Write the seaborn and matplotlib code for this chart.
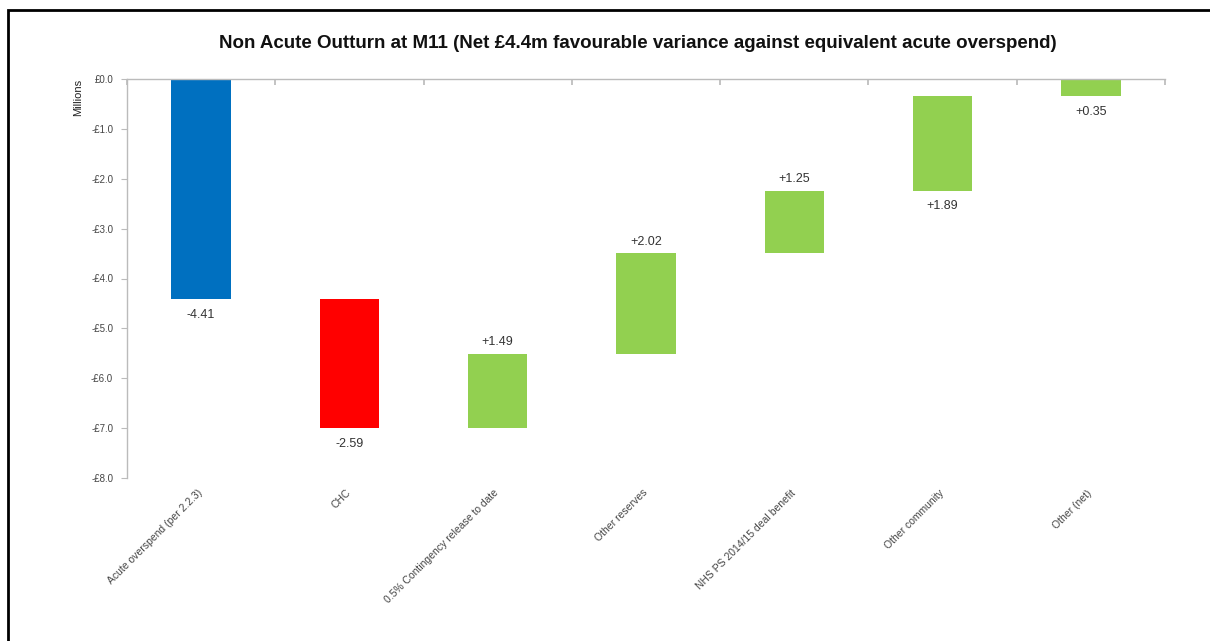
import matplotlib
matplotlib.use("Agg")
import matplotlib.pyplot as plt
from matplotlib.patches import Rectangle
from matplotlib.transforms import ScaledTranslation
import numpy as np
import pandas as pd
import seaborn as sns

# Waterfall data (£ millions)
categories = [
    "Acute overspend (per 2.2.3)",
    "CHC",
    "0.5% Contingency release to date",
    "Other reserves",
    "NHS PS 2014/15 deal benefit",
    "Other community",
    "Other (net)",
]
changes = [-4.41, -2.59, 1.49, 2.02, 1.25, 1.89, 0.35]
bar_colors = ["#0070C0", "#FF0000", "#92D050", "#92D050", "#92D050", "#92D050", "#92D050"]
label_side = ["below", "below", "above", "above", "above", "below", "below"]
y_ticks = [0, -1, -2, -3, -4, -5, -6, -7, -8]

title = "Non Acute Outturn at M11 (Net £4.4m favourable variance against equivalent acute overspend)"

# running totals: each bar starts where the previous one ended
starts = np.concatenate([[0.0], np.cumsum(changes)[:-1]])
ends = starts + np.array(changes)

df = pd.DataFrame({"category": categories, "change": changes})

sns.set_theme(style="white")
plt.rcParams["font.family"] = ["Liberation Sans", "DejaVu Sans"]

fig = plt.figure(figsize=(12.10, 6.41), dpi=100, facecolor="white")
ax = fig.add_axes([127 / 1210, 1 - 478 / 641, (1165 - 127) / 1210, (478 - 79) / 641])

sns.barplot(data=df, x="category", y="change", bottom=starts, width=0.4,
            color="#92D050", ax=ax, linewidth=0)
for patch, c in zip(ax.patches, bar_colors):
    patch.set_facecolor(c)
    patch.set_edgecolor(c)

# value labels at the chosen end of each bar
for i, (s, e, d, side) in enumerate(zip(starts, ends, changes, label_side)):
    lo, hi = min(s, e), max(s, e)
    text = f"{d:+.2f}"
    if side == "above":
        ax.annotate(text, (i, hi), xytext=(0, 4), textcoords="offset points",
                    ha="center", va="bottom", fontsize=9, color="#333333")
    else:
        ax.annotate(text, (i, lo), xytext=(0, -7), textcoords="offset points",
                    ha="center", va="top", fontsize=9, color="#333333")

ax.set_xlim(-0.5, len(categories) - 0.5)
ax.set_ylim(-8, 0)
ax.set_yticks(y_ticks)
ax.set_yticklabels([f"£{v:.1f}" if v == 0 else f"-£{abs(v):.1f}" for v in y_ticks],
                   fontsize=7, color="#444444")
ax.tick_params(axis="y", length=4, width=0.8, color="#BBBBBB", left=True, pad=6)
ax.set_ylabel("Millions", fontsize=8, color="#222222", loc="top", labelpad=6)

ax.set_xlabel("")
ax.set_xticks(range(len(categories)))
ax.set_xticklabels(categories, rotation=45, ha="right", rotation_mode="anchor",
                   fontsize=7.5, color="#444444")
ax.tick_params(axis="x", length=0, pad=7)
shift = ScaledTranslation(-4 / 100, 0, fig.dpi_scale_trans)
for lbl in ax.get_xticklabels():
    lbl.set_transform(lbl.get_transform() + shift)

for side in ["bottom", "right"]:
    ax.spines[side].set_visible(False)
for side in ["left", "top"]:
    ax.spines[side].set_color("#BBBBBB")
    ax.spines[side].set_linewidth(1.0)

# category divider ticks along the zero line
top = ax.secondary_xaxis("top")
top.set_xticks(np.arange(-0.5, len(categories) + 0.5, 1.0))
top.set_xticklabels([])
top.tick_params(direction="in", length=4, color="#BBBBBB")
top.spines["top"].set_visible(False)

fig.text(638 / 1210, 1 - 43 / 641, title, ha="center", va="center",
         fontsize=13.5, fontweight="bold", color="#111111")

# frame line along the top and left of the chart area
fig.patches.append(Rectangle((8 / 1210, -0.1), 1.2, 1 - 10 / 641 + 0.1,
                             transform=fig.transFigure, fill=False,
                             edgecolor="black", linewidth=2.0))

fig.savefig("out.png", dpi=100, facecolor="white")
